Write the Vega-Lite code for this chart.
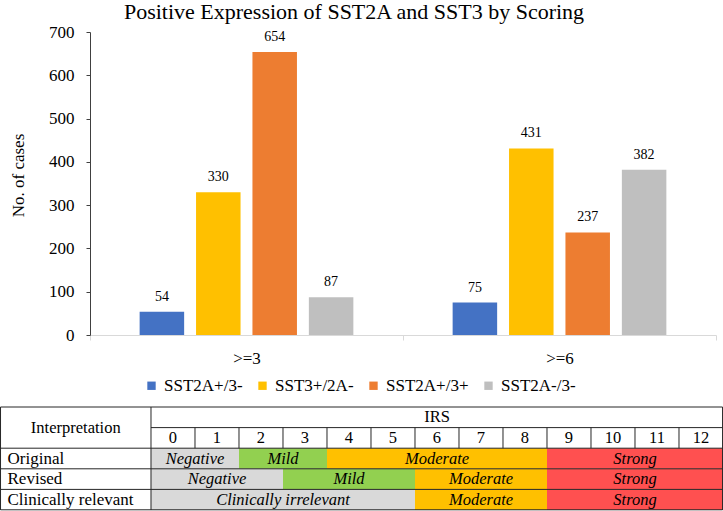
{
  "$schema": "https://vega.github.io/schema/vega-lite/v6.json",
  "width": 626,
  "height": 303,
  "autosize": "none",
  "padding": {"left": 90, "top": 32, "right": 7, "bottom": 176},
  "background": "white",
  "config": {
    "font": "'Liberation Serif', 'Times New Roman', Times, serif",
    "view": {"stroke": null},
    "axis": {"grid": false, "labelFont": "'Liberation Serif', 'Times New Roman', Times, serif", "titleFont": "'Liberation Serif', 'Times New Roman', Times, serif"},
    "legend": {"labelFont": "'Liberation Serif', 'Times New Roman', Times, serif", "titleFont": "'Liberation Serif', 'Times New Roman', Times, serif"},
    "text": {"font": "'Liberation Serif', 'Times New Roman', Times, serif"},
    "title": {"font": "'Liberation Serif', 'Times New Roman', Times, serif"}
  },
  "title": {"text": "Positive Expression of SST2A and SST3 by Scoring", "fontSize": 22, "fontWeight": "normal", "color": "#000000", "anchor": "middle", "frame": "group", "dx": -49, "offset": -1},
  "datasets": {
    "bars": [
      {"threshold": ">=3", "series": "SST2A+/3-", "cases": 54},
      {"threshold": ">=3", "series": "SST3+/2A-", "cases": 330},
      {"threshold": ">=3", "series": "SST2A+/3+", "cases": 654},
      {"threshold": ">=3", "series": "SST2A-/3-", "cases": 87},
      {"threshold": ">=6", "series": "SST2A+/3-", "cases": 75},
      {"threshold": ">=6", "series": "SST3+/2A-", "cases": 431},
      {"threshold": ">=6", "series": "SST2A+/3+", "cases": 237},
      {"threshold": ">=6", "series": "SST2A-/3-", "cases": 382}
    ],
    "cells": [
      {"scheme": "Original", "label": "Negative", "start": 0, "end": 2, "mid": 1, "r0": 2, "r1": 3, "rm": 2.5},
      {"scheme": "Original", "label": "Mild", "start": 2, "end": 4, "mid": 3, "r0": 2, "r1": 3, "rm": 2.5},
      {"scheme": "Original", "label": "Moderate", "start": 4, "end": 9, "mid": 6.5, "r0": 2, "r1": 3, "rm": 2.5},
      {"scheme": "Original", "label": "Strong", "start": 9, "end": 13, "mid": 11, "r0": 2, "r1": 3, "rm": 2.5},
      {"scheme": "Revised", "label": "Negative", "start": 0, "end": 3, "mid": 1.5, "r0": 3, "r1": 4, "rm": 3.5},
      {"scheme": "Revised", "label": "Mild", "start": 3, "end": 6, "mid": 4.5, "r0": 3, "r1": 4, "rm": 3.5},
      {"scheme": "Revised", "label": "Moderate", "start": 6, "end": 9, "mid": 7.5, "r0": 3, "r1": 4, "rm": 3.5},
      {"scheme": "Revised", "label": "Strong", "start": 9, "end": 13, "mid": 11, "r0": 3, "r1": 4, "rm": 3.5},
      {"scheme": "Clinically relevant", "label": "Clinically irrelevant", "start": 0, "end": 6, "mid": 3, "r0": 4, "r1": 5, "rm": 4.5},
      {"scheme": "Clinically relevant", "label": "Moderate", "start": 6, "end": 9, "mid": 7.5, "r0": 4, "r1": 5, "rm": 4.5},
      {"scheme": "Clinically relevant", "label": "Strong", "start": 9, "end": 13, "mid": 11, "r0": 4, "r1": 5, "rm": 4.5}
    ],
    "headers": [
      {"text": "Interpretation", "cx": -1.71, "cy": 1},
      {"text": "IRS", "cx": 6.5, "cy": 0.5},
      {"text": "0", "cx": 0.5, "cy": 1.5},
      {"text": "1", "cx": 1.5, "cy": 1.5},
      {"text": "2", "cx": 2.5, "cy": 1.5},
      {"text": "3", "cx": 3.5, "cy": 1.5},
      {"text": "4", "cx": 4.5, "cy": 1.5},
      {"text": "5", "cx": 5.5, "cy": 1.5},
      {"text": "6", "cx": 6.5, "cy": 1.5},
      {"text": "7", "cx": 7.5, "cy": 1.5},
      {"text": "8", "cx": 8.5, "cy": 1.5},
      {"text": "9", "cx": 9.5, "cy": 1.5},
      {"text": "10", "cx": 10.5, "cy": 1.5},
      {"text": "11", "cx": 11.5, "cy": 1.5},
      {"text": "12", "cx": 12.5, "cy": 1.5}
    ],
    "rowlabels": [
      {"text": "Original", "cx": -3.42, "cy": 2.5},
      {"text": "Revised", "cx": -3.42, "cy": 3.5},
      {"text": "Clinically relevant", "cx": -3.42, "cy": 4.5}
    ],
    "grid": [
      {"gx": -3.42, "gx2": 12.99, "gy": 0, "gy2": 0},
      {"gx": 0, "gx2": 12.99, "gy": 1, "gy2": 1},
      {"gx": -3.42, "gx2": 12.99, "gy": 2, "gy2": 2},
      {"gx": -3.42, "gx2": 12.99, "gy": 3, "gy2": 3},
      {"gx": -3.42, "gx2": 12.99, "gy": 4, "gy2": 4},
      {"gx": -3.42, "gx2": 12.99, "gy": 4.99, "gy2": 4.99},
      {"gx": -3.42, "gx2": -3.42, "gy": 0, "gy2": 5},
      {"gx": 0, "gx2": 0, "gy": 0, "gy2": 5},
      {"gx": 12.99, "gx2": 12.99, "gy": 0, "gy2": 5},
      {"gx": 1, "gx2": 1, "gy": 1, "gy2": 2},
      {"gx": 2, "gx2": 2, "gy": 1, "gy2": 2},
      {"gx": 3, "gx2": 3, "gy": 1, "gy2": 2},
      {"gx": 4, "gx2": 4, "gy": 1, "gy2": 2},
      {"gx": 5, "gx2": 5, "gy": 1, "gy2": 2},
      {"gx": 6, "gx2": 6, "gy": 1, "gy2": 2},
      {"gx": 7, "gx2": 7, "gy": 1, "gy2": 2},
      {"gx": 8, "gx2": 8, "gy": 1, "gy2": 2},
      {"gx": 9, "gx2": 9, "gy": 1, "gy2": 2},
      {"gx": 10, "gx2": 10, "gy": 1, "gy2": 2},
      {"gx": 11, "gx2": 11, "gy": 1, "gy2": 2},
      {"gx": 12, "gx2": 12, "gy": 1, "gy2": 2}
    ]
  },
  "layer": [
    {
      "data": {"name": "bars"},
      "encoding": {
        "x": {"field": "threshold", "type": "nominal", "sort": [">=3", ">=6"], "scale": {"paddingInner": 0, "paddingOuter": 0},
          "axis": {"title": null, "labelAngle": 0, "labelFontSize": 17, "labelColor": "#000000", "domainColor": "#d9d9d9", "tickColor": "#d9d9d9", "tickSize": 5, "tickBand": "extent", "labelPadding": 10}},
        "xOffset": {"field": "series", "type": "nominal", "sort": ["SST2A+/3-", "SST3+/2A-", "SST2A+/3+", "SST2A-/3-"], "scale": {"paddingInner": 0.211, "paddingOuter": 0.88}},
        "y": {"field": "cases", "type": "quantitative", "scale": {"domain": [0, 700], "nice": false},
          "axis": {"title": "No. of cases", "titleFontSize": 17, "titleFontWeight": "normal", "titleColor": "#000000", "titleX": -72, "titleY": 143, "titleAngle": -90, "titleAlign": "center", "titleBaseline": "middle",
            "values": [0, 100, 200, 300, 400, 500, 600, 700], "labelFontSize": 17, "labelColor": "#000000", "labelPadding": 12, "tickSize": 4, "tickColor": "#404040", "domainColor": "#404040", "grid": false}}
      },
      "layer": [
        {"mark": {"type": "bar"},
         "encoding": {"color": {"field": "series", "type": "nominal",
           "scale": {"domain": ["SST2A+/3-", "SST3+/2A-", "SST2A+/3+", "SST2A-/3-"], "range": ["#4472c4", "#ffc000", "#ed7d31", "#bfbfbf"]},
           "legend": {"orient": "none", "legendX": 53, "legendY": 345, "direction": "horizontal", "title": null, "symbolType": "square", "symbolSize": 70, "symbolStrokeWidth": 0, "labelFontSize": 17, "labelColor": "#000000", "columnPadding": 11, "labelOffset": 4}}}},
        {"mark": {"type": "text", "baseline": "middle", "dy": -15, "fontSize": 14, "color": "#000000"},
         "encoding": {"text": {"field": "cases", "type": "quantitative"}}}
      ]
    },
    {
      "layer": [
        {"data": {"name": "cells"}, "mark": {"type": "rect"},
         "encoding": {
           "x": {"field": "start", "type": "quantitative", "scale": {"domain": [-1.38636, 12.84091], "nice": false, "zero": false}, "axis": null},
           "x2": {"field": "end"},
           "y": {"field": "r0", "type": "quantitative", "scale": {"domain": [-18.2039, -3.4952], "nice": false, "zero": false, "reverse": true}, "axis": null},
           "y2": {"field": "r1"},
           "fill": {"field": "label", "type": "nominal", "scale": {"domain": ["Negative", "Clinically irrelevant", "Mild", "Moderate", "Strong"], "range": ["#d9d9d9", "#d9d9d9", "#92d050", "#ffc000", "#ff5050"]}, "legend": null}
         }},
        {"data": {"name": "grid"}, "mark": {"type": "rule", "color": "#262626", "strokeWidth": 1},
         "encoding": {
           "x": {"field": "gx", "type": "quantitative", "scale": {"domain": [-1.38636, 12.84091], "nice": false, "zero": false}, "axis": null},
           "x2": {"field": "gx2"},
           "y": {"field": "gy", "type": "quantitative", "scale": {"domain": [-18.2039, -3.4952], "nice": false, "zero": false, "reverse": true}, "axis": null},
           "y2": {"field": "gy2"}
         }},
        {"data": {"name": "cells"}, "mark": {"type": "text", "fontStyle": "italic", "fontSize": 16.5, "baseline": "middle", "align": "center", "color": "#000000"},
         "encoding": {
           "x": {"field": "mid", "type": "quantitative", "scale": {"domain": [-1.38636, 12.84091], "nice": false, "zero": false}, "axis": null},
           "y": {"field": "rm", "type": "quantitative", "scale": {"domain": [-18.2039, -3.4952], "nice": false, "zero": false, "reverse": true}, "axis": null},
           "text": {"field": "label"}
         }},
        {"data": {"name": "headers"}, "mark": {"type": "text", "fontSize": 16.5, "baseline": "middle", "align": "center", "color": "#000000"},
         "encoding": {
           "x": {"field": "cx", "type": "quantitative", "scale": {"domain": [-1.38636, 12.84091], "nice": false, "zero": false}, "axis": null},
           "y": {"field": "cy", "type": "quantitative", "scale": {"domain": [-18.2039, -3.4952], "nice": false, "zero": false, "reverse": true}, "axis": null},
           "text": {"field": "text"}
         }},
        {"data": {"name": "rowlabels"}, "mark": {"type": "text", "fontSize": 17, "baseline": "middle", "align": "left", "dx": 7, "color": "#000000"},
         "encoding": {
           "x": {"field": "cx", "type": "quantitative", "scale": {"domain": [-1.38636, 12.84091], "nice": false, "zero": false}, "axis": null},
           "y": {"field": "cy", "type": "quantitative", "scale": {"domain": [-18.2039, -3.4952], "nice": false, "zero": false, "reverse": true}, "axis": null},
           "text": {"field": "text"}
         }}
      ]
    }
  ],
  "resolve": {"scale": {"x": "independent", "y": "independent"}}
}
